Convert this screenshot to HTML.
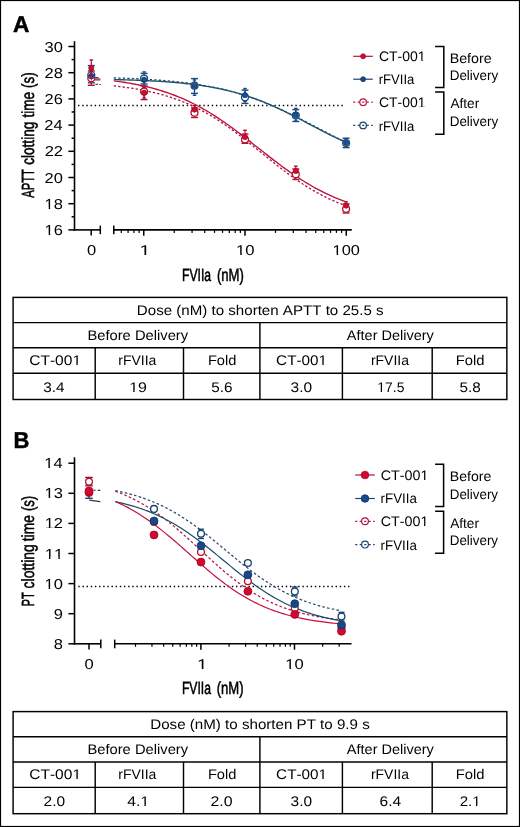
<!DOCTYPE html>
<html><head><meta charset="utf-8"><style>html,body{margin:0;padding:0;background:#fff;}svg{display:block;will-change:transform;}</style></head><body>
<svg width="520" height="827" viewBox="0 0 520 827" font-family="'Liberation Sans', sans-serif" text-rendering="geometricPrecision" style="font-kerning:none">
<rect width="520" height="827" fill="#fff"/>
<rect x="0.5" y="0.5" width="519" height="826" fill="none" stroke="#000" stroke-width="1.2"/>
<text transform="translate(12.99,32.05) scale(0.9960,1)" font-size="22.75" font-weight="bold" fill="#000" stroke="#000" stroke-width="0.5">A</text>
<line x1="74.50" y1="41.20" x2="74.50" y2="230.70" stroke="#000" stroke-width="1.6"/>
<line x1="68.40" y1="229.90" x2="74.50" y2="229.90" stroke="#000" stroke-width="1.5"/>
<line x1="71.60" y1="216.80" x2="74.50" y2="216.80" stroke="#000" stroke-width="1.5"/>
<line x1="68.40" y1="203.70" x2="74.50" y2="203.70" stroke="#000" stroke-width="1.5"/>
<line x1="71.60" y1="190.60" x2="74.50" y2="190.60" stroke="#000" stroke-width="1.5"/>
<line x1="68.40" y1="177.50" x2="74.50" y2="177.50" stroke="#000" stroke-width="1.5"/>
<line x1="71.60" y1="164.40" x2="74.50" y2="164.40" stroke="#000" stroke-width="1.5"/>
<line x1="68.40" y1="151.30" x2="74.50" y2="151.30" stroke="#000" stroke-width="1.5"/>
<line x1="71.60" y1="138.20" x2="74.50" y2="138.20" stroke="#000" stroke-width="1.5"/>
<line x1="68.40" y1="125.10" x2="74.50" y2="125.10" stroke="#000" stroke-width="1.5"/>
<line x1="71.60" y1="112.00" x2="74.50" y2="112.00" stroke="#000" stroke-width="1.5"/>
<line x1="68.40" y1="98.90" x2="74.50" y2="98.90" stroke="#000" stroke-width="1.5"/>
<line x1="71.60" y1="85.80" x2="74.50" y2="85.80" stroke="#000" stroke-width="1.5"/>
<line x1="68.40" y1="72.70" x2="74.50" y2="72.70" stroke="#000" stroke-width="1.5"/>
<line x1="71.60" y1="59.60" x2="74.50" y2="59.60" stroke="#000" stroke-width="1.5"/>
<line x1="68.40" y1="46.50" x2="74.50" y2="46.50" stroke="#000" stroke-width="1.5"/>
<text transform="translate(44.58,234.90) scale(1.1454,1)" font-size="14.40" fill="#000">16</text>
<path transform="translate(44.58,234.90) scale(1.1454,1)" d="M0.281,-1.181H3.621V0.422H0.281ZM4.894,-1.181H7.875V0.422H4.894Z" fill="#fff"/>
<text transform="translate(44.57,208.70) scale(1.1454,1)" font-size="14.40" fill="#000">18</text>
<path transform="translate(44.57,208.70) scale(1.1454,1)" d="M0.281,-1.181H3.621V0.422H0.281ZM4.894,-1.181H7.875V0.422H4.894Z" fill="#fff"/>
<text transform="translate(44.50,182.50) scale(1.1454,1)" font-size="14.40" fill="#000">20</text>
<text transform="translate(44.68,156.30) scale(1.1454,1)" font-size="14.40" fill="#000">22</text>
<text transform="translate(44.34,130.10) scale(1.1454,1)" font-size="14.40" fill="#000">24</text>
<text transform="translate(44.58,103.90) scale(1.1454,1)" font-size="14.40" fill="#000">26</text>
<text transform="translate(44.57,77.70) scale(1.1454,1)" font-size="14.40" fill="#000">28</text>
<text transform="translate(44.50,51.50) scale(1.1454,1)" font-size="14.40" fill="#000">30</text>
<line x1="73.70" y1="229.90" x2="100.30" y2="229.90" stroke="#000" stroke-width="1.6"/>
<line x1="100.30" y1="225.60" x2="100.30" y2="234.20" stroke="#000" stroke-width="1.5"/>
<line x1="91.20" y1="229.90" x2="91.20" y2="235.60" stroke="#000" stroke-width="1.5"/>
<line x1="113.75" y1="229.90" x2="351.75" y2="229.90" stroke="#000" stroke-width="1.6"/>
<line x1="113.75" y1="225.60" x2="113.75" y2="234.20" stroke="#000" stroke-width="1.5"/>
<line x1="121.29" y1="229.90" x2="121.29" y2="232.90" stroke="#000" stroke-width="1.2"/>
<line x1="128.07" y1="229.90" x2="128.07" y2="232.90" stroke="#000" stroke-width="1.2"/>
<line x1="133.94" y1="229.90" x2="133.94" y2="232.90" stroke="#000" stroke-width="1.2"/>
<line x1="139.12" y1="229.90" x2="139.12" y2="232.90" stroke="#000" stroke-width="1.2"/>
<line x1="143.75" y1="229.90" x2="143.75" y2="235.80" stroke="#000" stroke-width="1.5"/>
<line x1="174.23" y1="229.90" x2="174.23" y2="232.90" stroke="#000" stroke-width="1.2"/>
<line x1="192.06" y1="229.90" x2="192.06" y2="232.90" stroke="#000" stroke-width="1.2"/>
<line x1="204.71" y1="229.90" x2="204.71" y2="232.90" stroke="#000" stroke-width="1.2"/>
<line x1="214.52" y1="229.90" x2="214.52" y2="232.90" stroke="#000" stroke-width="1.2"/>
<line x1="222.54" y1="229.90" x2="222.54" y2="232.90" stroke="#000" stroke-width="1.2"/>
<line x1="229.32" y1="229.90" x2="229.32" y2="232.90" stroke="#000" stroke-width="1.2"/>
<line x1="235.19" y1="229.90" x2="235.19" y2="232.90" stroke="#000" stroke-width="1.2"/>
<line x1="240.37" y1="229.90" x2="240.37" y2="232.90" stroke="#000" stroke-width="1.2"/>
<line x1="245.00" y1="229.90" x2="245.00" y2="235.80" stroke="#000" stroke-width="1.5"/>
<line x1="275.48" y1="229.90" x2="275.48" y2="232.90" stroke="#000" stroke-width="1.2"/>
<line x1="293.31" y1="229.90" x2="293.31" y2="232.90" stroke="#000" stroke-width="1.2"/>
<line x1="305.96" y1="229.90" x2="305.96" y2="232.90" stroke="#000" stroke-width="1.2"/>
<line x1="315.77" y1="229.90" x2="315.77" y2="232.90" stroke="#000" stroke-width="1.2"/>
<line x1="323.79" y1="229.90" x2="323.79" y2="232.90" stroke="#000" stroke-width="1.2"/>
<line x1="330.57" y1="229.90" x2="330.57" y2="232.90" stroke="#000" stroke-width="1.2"/>
<line x1="336.44" y1="229.90" x2="336.44" y2="232.90" stroke="#000" stroke-width="1.2"/>
<line x1="341.62" y1="229.90" x2="341.62" y2="232.90" stroke="#000" stroke-width="1.2"/>
<line x1="346.25" y1="229.90" x2="346.25" y2="235.80" stroke="#000" stroke-width="1.5"/>
<text transform="translate(86.95,254.80) scale(1.1638,1)" font-size="14.20" fill="#000">0</text>
<text transform="translate(139.51,254.80) scale(1.3873,1)" font-size="14.20" fill="#000">1</text>
<path transform="translate(139.51,254.80) scale(1.3873,1)" d="M0.277,-1.165H3.571V0.416H0.277ZM4.826,-1.165H7.766V0.416H4.826Z" fill="#fff"/>
<text transform="translate(236.10,254.80) scale(1.1748,1)" font-size="14.20" fill="#000">10</text>
<path transform="translate(236.10,254.80) scale(1.1748,1)" d="M0.277,-1.165H3.571V0.416H0.277ZM4.826,-1.165H7.766V0.416H4.826Z" fill="#fff"/>
<text transform="translate(332.53,254.80) scale(1.1529,1)" font-size="14.20" fill="#000">100</text>
<path transform="translate(332.53,254.80) scale(1.1529,1)" d="M0.277,-1.165H3.571V0.416H0.277ZM4.826,-1.165H7.766V0.416H4.826Z" fill="#fff"/>
<text transform="translate(182.00,280.60) scale(0.6919,1)" font-size="17.60" fill="#000" stroke="#000" stroke-width="0.55">FVIIa</text>
<text transform="translate(216.89,280.60) scale(0.7444,1)" font-size="17.60" fill="#000" stroke="#000" stroke-width="0.55">(nM)</text>
<text transform="translate(33.50,197.82) rotate(-90) scale(0.6376,1)" font-size="17.60" stroke="#000" stroke-width="0.55">APTT</text>
<text transform="translate(33.50,164.78) rotate(-90) scale(0.7720,1)" font-size="17.60" stroke="#000" stroke-width="0.55">clotting</text>
<text transform="translate(33.50,117.61) rotate(-90) scale(0.7702,1)" font-size="17.60" stroke="#000" stroke-width="0.55">time</text>
<text transform="translate(33.50,88.04) rotate(-90) scale(0.7661,1)" font-size="17.60" stroke="#000" stroke-width="0.55">(s)</text>
<line x1="78" y1="105.6" x2="343" y2="105.6" stroke="#000" stroke-width="1.5" stroke-dasharray="1.4 2.78"/>
<path d="M113.80,77.83 L115.73,77.90 L117.67,77.96 L119.60,78.03 L121.54,78.10 L123.47,78.17 L125.41,78.25 L127.34,78.33 L129.28,78.41 L131.22,78.49 L133.15,78.58 L135.09,78.68 L137.02,78.77 L138.95,78.87 L140.89,78.97 L142.82,79.08 L144.76,79.19 L146.69,79.31 L148.63,79.43 L150.56,79.55 L152.50,79.68 L154.44,79.81 L156.37,79.95 L158.31,80.09 L160.24,80.24 L162.18,80.40 L164.11,80.56 L166.04,80.73 L167.98,80.90 L169.91,81.08 L171.85,81.26 L173.78,81.46 L175.72,81.66 L177.66,81.86 L179.59,82.08 L181.52,82.30 L183.46,82.53 L185.39,82.77 L187.33,83.01 L189.26,83.27 L191.20,83.53 L193.13,83.80 L195.07,84.08 L197.00,84.38 L198.94,84.68 L200.88,84.99 L202.81,85.31 L204.75,85.65 L206.68,85.99 L208.62,86.34 L210.55,86.71 L212.48,87.09 L214.42,87.48 L216.35,87.88 L218.29,88.30 L220.22,88.73 L222.16,89.17 L224.09,89.62 L226.03,90.09 L227.96,90.57 L229.90,91.07 L231.83,91.58 L233.77,92.10 L235.70,92.64 L237.64,93.19 L239.57,93.76 L241.51,94.34 L243.44,94.94 L245.38,95.55 L247.31,96.18 L249.25,96.83 L251.19,97.49 L253.12,98.16 L255.06,98.85 L256.99,99.56 L258.93,100.28 L260.86,101.02 L262.79,101.77 L264.73,102.54 L266.66,103.32 L268.60,104.11 L270.54,104.92 L272.47,105.75 L274.40,106.59 L276.34,107.44 L278.27,108.31 L280.21,109.18 L282.14,110.08 L284.08,110.98 L286.01,111.89 L287.95,112.82 L289.88,113.75 L291.82,114.70 L293.75,115.65 L295.69,116.62 L297.62,117.59 L299.56,118.57 L301.50,119.55 L303.43,120.55 L305.37,121.54 L307.30,122.54 L309.23,123.55 L311.17,124.55 L313.10,125.56 L315.04,126.57 L316.98,127.58 L318.91,128.60 L320.84,129.60 L322.78,130.61 L324.71,131.62 L326.65,132.62 L328.58,133.62 L330.52,134.61 L332.45,135.60 L334.39,136.58 L336.32,137.55 L338.26,138.51 L340.19,139.47 L342.13,140.42 L344.06,141.36 L346.00,142.28" fill="none" stroke="#27486e" stroke-width="1.3" stroke-dasharray="2.3 2.2" stroke-linejoin="round"/>
<path d="M113.80,85.91 L115.73,86.13 L117.67,86.35 L119.60,86.58 L121.54,86.81 L123.47,87.06 L125.41,87.32 L127.34,87.59 L129.28,87.87 L131.22,88.16 L133.15,88.47 L135.09,88.78 L137.02,89.11 L138.95,89.45 L140.89,89.81 L142.82,90.18 L144.76,90.56 L146.69,90.96 L148.63,91.37 L150.56,91.80 L152.50,92.25 L154.44,92.71 L156.37,93.19 L158.31,93.69 L160.24,94.20 L162.18,94.74 L164.11,95.29 L166.04,95.87 L167.98,96.46 L169.91,97.08 L171.85,97.71 L173.78,98.37 L175.72,99.05 L177.66,99.75 L179.59,100.48 L181.52,101.23 L183.46,102.00 L185.39,102.80 L187.33,103.62 L189.26,104.47 L191.20,105.34 L193.13,106.24 L195.07,107.17 L197.00,108.12 L198.94,109.09 L200.88,110.10 L202.81,111.13 L204.75,112.18 L206.68,113.27 L208.62,114.38 L210.55,115.51 L212.48,116.67 L214.42,117.86 L216.35,119.07 L218.29,120.31 L220.22,121.57 L222.16,122.86 L224.09,124.17 L226.03,125.51 L227.96,126.86 L229.90,128.24 L231.83,129.64 L233.77,131.05 L235.70,132.49 L237.64,133.95 L239.57,135.42 L241.51,136.90 L243.44,138.40 L245.38,139.92 L247.31,141.44 L249.25,142.98 L251.19,144.52 L253.12,146.08 L255.06,147.64 L256.99,149.20 L258.93,150.77 L260.86,152.33 L262.79,153.90 L264.73,155.47 L266.66,157.03 L268.60,158.59 L270.54,160.15 L272.47,161.69 L274.40,163.23 L276.34,164.76 L278.27,166.27 L280.21,167.78 L282.14,169.27 L284.08,170.74 L286.01,172.20 L287.95,173.64 L289.88,175.06 L291.82,176.46 L293.75,177.84 L295.69,179.20 L297.62,180.54 L299.56,181.86 L301.50,183.15 L303.43,184.42 L305.37,185.66 L307.30,186.88 L309.23,188.07 L311.17,189.24 L313.10,190.38 L315.04,191.49 L316.98,192.58 L318.91,193.64 L320.84,194.68 L322.78,195.68 L324.71,196.67 L326.65,197.62 L328.58,198.55 L330.52,199.45 L332.45,200.33 L334.39,201.19 L336.32,202.01 L338.26,202.82 L340.19,203.59 L342.13,204.35 L344.06,205.08 L346.00,205.79" fill="none" stroke="#b01040" stroke-width="1.3" stroke-dasharray="2.3 2.1" stroke-linejoin="round"/>
<path d="M113.80,79.55 L115.73,79.59 L117.67,79.64 L119.60,79.69 L121.54,79.74 L123.47,79.79 L125.41,79.85 L127.34,79.91 L129.28,79.97 L131.22,80.03 L133.15,80.10 L135.09,80.16 L137.02,80.24 L138.95,80.31 L140.89,80.39 L142.82,80.47 L144.76,80.55 L146.69,80.64 L148.63,80.74 L150.56,80.83 L152.50,80.93 L154.44,81.04 L156.37,81.15 L158.31,81.26 L160.24,81.38 L162.18,81.51 L164.11,81.64 L166.04,81.77 L167.98,81.91 L169.91,82.06 L171.85,82.21 L173.78,82.37 L175.72,82.54 L177.66,82.71 L179.59,82.89 L181.52,83.08 L183.46,83.28 L185.39,83.48 L187.33,83.69 L189.26,83.91 L191.20,84.14 L193.13,84.38 L195.07,84.63 L197.00,84.89 L198.94,85.15 L200.88,85.43 L202.81,85.72 L204.75,86.02 L206.68,86.33 L208.62,86.66 L210.55,86.99 L212.48,87.34 L214.42,87.70 L216.35,88.07 L218.29,88.46 L220.22,88.86 L222.16,89.28 L224.09,89.71 L226.03,90.15 L227.96,90.61 L229.90,91.08 L231.83,91.57 L233.77,92.08 L235.70,92.60 L237.64,93.14 L239.57,93.70 L241.51,94.27 L243.44,94.86 L245.38,95.47 L247.31,96.09 L249.25,96.73 L251.19,97.39 L253.12,98.07 L255.06,98.76 L256.99,99.47 L258.93,100.20 L260.86,100.95 L262.79,101.71 L264.73,102.49 L266.66,103.29 L268.60,104.10 L270.54,104.93 L272.47,105.78 L274.40,106.64 L276.34,107.52 L278.27,108.41 L280.21,109.31 L282.14,110.23 L284.08,111.16 L286.01,112.10 L287.95,113.06 L289.88,114.02 L291.82,114.99 L293.75,115.98 L295.69,116.97 L297.62,117.97 L299.56,118.97 L301.50,119.98 L303.43,120.99 L305.37,122.01 L307.30,123.03 L309.23,124.05 L311.17,125.07 L313.10,126.09 L315.04,127.11 L316.98,128.12 L318.91,129.13 L320.84,130.14 L322.78,131.14 L324.71,132.13 L326.65,133.12 L328.58,134.10 L330.52,135.07 L332.45,136.02 L334.39,136.97 L336.32,137.91 L338.26,138.83 L340.19,139.74 L342.13,140.64 L344.06,141.52 L346.00,142.39" fill="none" stroke="#1d5270" stroke-width="1.4" stroke-linejoin="round"/>
<path d="M113.80,80.86 L115.73,81.11 L117.67,81.37 L119.60,81.64 L121.54,81.92 L123.47,82.22 L125.41,82.52 L127.34,82.84 L129.28,83.17 L131.22,83.51 L133.15,83.86 L135.09,84.23 L137.02,84.61 L138.95,85.00 L140.89,85.41 L142.82,85.84 L144.76,86.28 L146.69,86.73 L148.63,87.20 L150.56,87.69 L152.50,88.19 L154.44,88.72 L156.37,89.26 L158.31,89.82 L160.24,90.39 L162.18,90.99 L164.11,91.61 L166.04,92.24 L167.98,92.90 L169.91,93.58 L171.85,94.28 L173.78,95.00 L175.72,95.75 L177.66,96.51 L179.59,97.30 L181.52,98.12 L183.46,98.95 L185.39,99.81 L187.33,100.70 L189.26,101.61 L191.20,102.54 L193.13,103.50 L195.07,104.48 L197.00,105.48 L198.94,106.51 L200.88,107.57 L202.81,108.65 L204.75,109.76 L206.68,110.89 L208.62,112.04 L210.55,113.22 L212.48,114.42 L214.42,115.64 L216.35,116.89 L218.29,118.16 L220.22,119.45 L222.16,120.76 L224.09,122.09 L226.03,123.44 L227.96,124.81 L229.90,126.20 L231.83,127.61 L233.77,129.03 L235.70,130.47 L237.64,131.92 L239.57,133.38 L241.51,134.86 L243.44,136.35 L245.38,137.85 L247.31,139.35 L249.25,140.87 L251.19,142.39 L253.12,143.91 L255.06,145.44 L256.99,146.97 L258.93,148.50 L260.86,150.03 L262.79,151.55 L264.73,153.08 L266.66,154.60 L268.60,156.11 L270.54,157.61 L272.47,159.11 L274.40,160.60 L276.34,162.07 L278.27,163.54 L280.21,164.99 L282.14,166.42 L284.08,167.84 L286.01,169.25 L287.95,170.64 L289.88,172.00 L291.82,173.35 L293.75,174.68 L295.69,175.99 L297.62,177.28 L299.56,178.55 L301.50,179.79 L303.43,181.01 L305.37,182.21 L307.30,183.38 L309.23,184.54 L311.17,185.66 L313.10,186.76 L315.04,187.84 L316.98,188.89 L318.91,189.92 L320.84,190.93 L322.78,191.91 L324.71,192.86 L326.65,193.79 L328.58,194.69 L330.52,195.58 L332.45,196.43 L334.39,197.27 L336.32,198.08 L338.26,198.86 L340.19,199.63 L342.13,200.37 L344.06,201.09 L346.00,201.79" fill="none" stroke="#c0103c" stroke-width="1.35" stroke-linejoin="round"/>
<line x1="95.20" y1="77.60" x2="98.50" y2="77.60" stroke="#3a4a66" stroke-width="1.2"/>
<line x1="95.20" y1="79.00" x2="100.30" y2="79.00" stroke="#c0103c" stroke-width="1.3"/>
<line x1="95.20" y1="80.00" x2="100.30" y2="80.00" stroke="#556070" stroke-width="1.2"/>
<line x1="95.50" y1="84.30" x2="98.00" y2="84.30" stroke="#8a1a3a" stroke-width="1.2"/>
<line x1="99.30" y1="84.50" x2="100.80" y2="84.50" stroke="#8a1a3a" stroke-width="1.0"/>
<line x1="91.30" y1="70.50" x2="91.30" y2="81.00" stroke="#1a4a80" stroke-width="1.2"/>
<line x1="89.60" y1="70.50" x2="93.00" y2="70.50" stroke="#1a4a80" stroke-width="1.4"/>
<line x1="89.60" y1="81.00" x2="93.00" y2="81.00" stroke="#1a4a80" stroke-width="1.4"/>
<line x1="144.10" y1="71.90" x2="144.10" y2="87.00" stroke="#1a4a80" stroke-width="1.2"/>
<line x1="142.40" y1="71.90" x2="145.80" y2="71.90" stroke="#1a4a80" stroke-width="1.4"/>
<line x1="142.40" y1="87.00" x2="145.80" y2="87.00" stroke="#1a4a80" stroke-width="1.4"/>
<line x1="194.50" y1="80.00" x2="194.50" y2="95.30" stroke="#1a4a80" stroke-width="1.2"/>
<line x1="192.80" y1="80.00" x2="196.20" y2="80.00" stroke="#1a4a80" stroke-width="1.4"/>
<line x1="192.80" y1="95.30" x2="196.20" y2="95.30" stroke="#1a4a80" stroke-width="1.4"/>
<line x1="245.00" y1="88.50" x2="245.00" y2="101.50" stroke="#1a4a80" stroke-width="1.2"/>
<line x1="243.30" y1="88.50" x2="246.70" y2="88.50" stroke="#1a4a80" stroke-width="1.4"/>
<line x1="243.30" y1="101.50" x2="246.70" y2="101.50" stroke="#1a4a80" stroke-width="1.4"/>
<line x1="295.80" y1="108.40" x2="295.80" y2="121.00" stroke="#1a4a80" stroke-width="1.2"/>
<line x1="294.10" y1="108.40" x2="297.50" y2="108.40" stroke="#1a4a80" stroke-width="1.4"/>
<line x1="294.10" y1="121.00" x2="297.50" y2="121.00" stroke="#1a4a80" stroke-width="1.4"/>
<line x1="346.10" y1="138.60" x2="346.10" y2="147.00" stroke="#1a4a80" stroke-width="1.2"/>
<line x1="344.40" y1="138.60" x2="347.80" y2="138.60" stroke="#1a4a80" stroke-width="1.4"/>
<line x1="344.40" y1="147.00" x2="347.80" y2="147.00" stroke="#1a4a80" stroke-width="1.4"/>
<line x1="91.30" y1="65.55" x2="91.30" y2="82.80" stroke="#1a4a80" stroke-width="1.2"/>
<line x1="87.80" y1="65.55" x2="94.80" y2="65.55" stroke="#1a4a80" stroke-width="1.4"/>
<line x1="87.80" y1="82.80" x2="94.80" y2="82.80" stroke="#1a4a80" stroke-width="1.4"/>
<line x1="144.10" y1="73.40" x2="144.10" y2="84.00" stroke="#1a4a80" stroke-width="1.2"/>
<line x1="140.60" y1="73.40" x2="147.60" y2="73.40" stroke="#1a4a80" stroke-width="1.4"/>
<line x1="140.60" y1="84.00" x2="147.60" y2="84.00" stroke="#1a4a80" stroke-width="1.4"/>
<line x1="194.50" y1="78.60" x2="194.50" y2="93.40" stroke="#1a4a80" stroke-width="1.2"/>
<line x1="191.00" y1="78.60" x2="198.00" y2="78.60" stroke="#1a4a80" stroke-width="1.4"/>
<line x1="191.00" y1="93.40" x2="198.00" y2="93.40" stroke="#1a4a80" stroke-width="1.4"/>
<line x1="245.00" y1="90.15" x2="245.00" y2="103.40" stroke="#1a4a80" stroke-width="1.2"/>
<line x1="241.50" y1="90.15" x2="248.50" y2="90.15" stroke="#1a4a80" stroke-width="1.4"/>
<line x1="241.50" y1="103.40" x2="248.50" y2="103.40" stroke="#1a4a80" stroke-width="1.4"/>
<line x1="295.80" y1="109.60" x2="295.80" y2="121.50" stroke="#1a4a80" stroke-width="1.2"/>
<line x1="292.30" y1="109.60" x2="299.30" y2="109.60" stroke="#1a4a80" stroke-width="1.4"/>
<line x1="292.30" y1="121.50" x2="299.30" y2="121.50" stroke="#1a4a80" stroke-width="1.4"/>
<line x1="346.10" y1="138.20" x2="346.10" y2="147.60" stroke="#1a4a80" stroke-width="1.2"/>
<line x1="342.60" y1="138.20" x2="349.60" y2="138.20" stroke="#1a4a80" stroke-width="1.4"/>
<line x1="342.60" y1="147.60" x2="349.60" y2="147.60" stroke="#1a4a80" stroke-width="1.4"/>
<line x1="91.30" y1="60.00" x2="91.30" y2="76.00" stroke="#b0102f" stroke-width="1.2"/>
<line x1="89.50" y1="60.00" x2="93.10" y2="60.00" stroke="#b0102f" stroke-width="1.4"/>
<line x1="89.50" y1="76.00" x2="93.10" y2="76.00" stroke="#b0102f" stroke-width="1.4"/>
<line x1="144.10" y1="87.00" x2="144.10" y2="98.00" stroke="#b0102f" stroke-width="1.2"/>
<line x1="142.30" y1="87.00" x2="145.90" y2="87.00" stroke="#b0102f" stroke-width="1.4"/>
<line x1="142.30" y1="98.00" x2="145.90" y2="98.00" stroke="#b0102f" stroke-width="1.4"/>
<line x1="194.50" y1="105.50" x2="194.50" y2="114.50" stroke="#b0102f" stroke-width="1.2"/>
<line x1="192.70" y1="105.50" x2="196.30" y2="105.50" stroke="#b0102f" stroke-width="1.4"/>
<line x1="192.70" y1="114.50" x2="196.30" y2="114.50" stroke="#b0102f" stroke-width="1.4"/>
<line x1="245.00" y1="130.30" x2="245.00" y2="143.30" stroke="#b0102f" stroke-width="1.2"/>
<line x1="243.20" y1="130.30" x2="246.80" y2="130.30" stroke="#b0102f" stroke-width="1.4"/>
<line x1="243.20" y1="143.30" x2="246.80" y2="143.30" stroke="#b0102f" stroke-width="1.4"/>
<line x1="295.80" y1="166.20" x2="295.80" y2="176.00" stroke="#b0102f" stroke-width="1.2"/>
<line x1="294.00" y1="166.20" x2="297.60" y2="166.20" stroke="#b0102f" stroke-width="1.4"/>
<line x1="294.00" y1="176.00" x2="297.60" y2="176.00" stroke="#b0102f" stroke-width="1.4"/>
<line x1="346.10" y1="201.80" x2="346.10" y2="209.50" stroke="#b0102f" stroke-width="1.2"/>
<line x1="344.30" y1="201.80" x2="347.90" y2="201.80" stroke="#b0102f" stroke-width="1.4"/>
<line x1="344.30" y1="209.50" x2="347.90" y2="209.50" stroke="#b0102f" stroke-width="1.4"/>
<line x1="91.30" y1="71.00" x2="91.30" y2="85.30" stroke="#b0102f" stroke-width="1.2"/>
<line x1="87.80" y1="71.00" x2="94.80" y2="71.00" stroke="#b0102f" stroke-width="1.4"/>
<line x1="87.80" y1="85.30" x2="94.80" y2="85.30" stroke="#b0102f" stroke-width="1.4"/>
<line x1="144.10" y1="86.00" x2="144.10" y2="99.60" stroke="#b0102f" stroke-width="1.2"/>
<line x1="140.60" y1="86.00" x2="147.60" y2="86.00" stroke="#b0102f" stroke-width="1.4"/>
<line x1="140.60" y1="99.60" x2="147.60" y2="99.60" stroke="#b0102f" stroke-width="1.4"/>
<line x1="194.50" y1="108.00" x2="194.50" y2="117.50" stroke="#b0102f" stroke-width="1.2"/>
<line x1="191.00" y1="108.00" x2="198.00" y2="108.00" stroke="#b0102f" stroke-width="1.4"/>
<line x1="191.00" y1="117.50" x2="198.00" y2="117.50" stroke="#b0102f" stroke-width="1.4"/>
<line x1="245.00" y1="134.00" x2="245.00" y2="143.30" stroke="#b0102f" stroke-width="1.2"/>
<line x1="241.50" y1="134.00" x2="248.50" y2="134.00" stroke="#b0102f" stroke-width="1.4"/>
<line x1="241.50" y1="143.30" x2="248.50" y2="143.30" stroke="#b0102f" stroke-width="1.4"/>
<line x1="295.80" y1="169.00" x2="295.80" y2="179.50" stroke="#b0102f" stroke-width="1.2"/>
<line x1="292.30" y1="169.00" x2="299.30" y2="169.00" stroke="#b0102f" stroke-width="1.4"/>
<line x1="292.30" y1="179.50" x2="299.30" y2="179.50" stroke="#b0102f" stroke-width="1.4"/>
<line x1="346.10" y1="204.00" x2="346.10" y2="213.00" stroke="#b0102f" stroke-width="1.2"/>
<line x1="342.60" y1="204.00" x2="349.60" y2="204.00" stroke="#b0102f" stroke-width="1.4"/>
<line x1="342.60" y1="213.00" x2="349.60" y2="213.00" stroke="#b0102f" stroke-width="1.4"/>
<circle cx="144.10" cy="78.50" r="3.45" fill="#fff" stroke="#1a4a80" stroke-width="1.3"/>
<circle cx="194.50" cy="85.70" r="3.45" fill="#fff" stroke="#1a4a80" stroke-width="1.3"/>
<circle cx="245.00" cy="97.30" r="3.45" fill="#fff" stroke="#1a4a80" stroke-width="1.3"/>
<circle cx="295.80" cy="115.50" r="3.45" fill="#fff" stroke="#1a4a80" stroke-width="1.3"/>
<circle cx="346.10" cy="143.00" r="3.45" fill="#fff" stroke="#1a4a80" stroke-width="1.3"/>
<circle cx="91.30" cy="78.20" r="3.45" fill="#fff" stroke="#b0102f" stroke-width="1.3"/>
<circle cx="144.10" cy="91.50" r="3.45" fill="#fff" stroke="#b0102f" stroke-width="1.3"/>
<circle cx="194.50" cy="112.70" r="3.45" fill="#fff" stroke="#b0102f" stroke-width="1.3"/>
<circle cx="245.00" cy="139.50" r="3.45" fill="#fff" stroke="#b0102f" stroke-width="1.3"/>
<circle cx="295.80" cy="174.30" r="3.45" fill="#fff" stroke="#b0102f" stroke-width="1.3"/>
<circle cx="346.10" cy="209.00" r="3.45" fill="#fff" stroke="#b0102f" stroke-width="1.3"/>
<circle cx="144.10" cy="79.70" r="2.6" fill="#1b5190" stroke="#0e2f5c" stroke-width="0.7"/>
<circle cx="194.50" cy="85.90" r="2.6" fill="#1b5190" stroke="#0e2f5c" stroke-width="0.7"/>
<circle cx="245.00" cy="95.15" r="2.6" fill="#1b5190" stroke="#0e2f5c" stroke-width="0.7"/>
<circle cx="295.80" cy="115.20" r="2.6" fill="#1b5190" stroke="#0e2f5c" stroke-width="0.7"/>
<circle cx="346.10" cy="142.80" r="2.6" fill="#1b5190" stroke="#0e2f5c" stroke-width="0.7"/>
<circle cx="91.30" cy="75.60" r="2.3" fill="#5a2a78" stroke="#3a1f5a" stroke-width="0.7"/>
<circle cx="91.30" cy="75.10" r="3.5" fill="none" stroke="#1a4a80" stroke-width="1.3"/>
<line x1="91.30" y1="70.50" x2="91.30" y2="80.50" stroke="#b01040" stroke-width="0.9"/>
<circle cx="91.30" cy="68.10" r="2.6" fill="#cc0f30" stroke="#a3001f" stroke-width="0.7"/>
<circle cx="144.10" cy="92.70" r="2.6" fill="#cc0f30" stroke="#a3001f" stroke-width="0.7"/>
<circle cx="194.50" cy="109.60" r="2.6" fill="#cc0f30" stroke="#a3001f" stroke-width="0.7"/>
<circle cx="245.00" cy="137.00" r="2.6" fill="#cc0f30" stroke="#a3001f" stroke-width="0.7"/>
<circle cx="295.80" cy="171.00" r="2.6" fill="#cc0f30" stroke="#a3001f" stroke-width="0.7"/>
<circle cx="346.10" cy="205.60" r="2.6" fill="#cc0f30" stroke="#a3001f" stroke-width="0.7"/>
<line x1="353.20" y1="56.30" x2="372.80" y2="56.30" stroke="#b5153f" stroke-width="1.2"/>
<circle cx="363.10" cy="56.30" r="2.5" fill="#c8103a" stroke="#a3001f" stroke-width="0.7"/>
<line x1="353.20" y1="79.20" x2="372.80" y2="79.20" stroke="#1e436e" stroke-width="1.2"/>
<circle cx="363.10" cy="79.20" r="2.5" fill="#1b4a80" stroke="#0e2f5c" stroke-width="0.7"/>
<line x1="353.20" y1="102.20" x2="372.80" y2="102.20" stroke="#b5153f" stroke-width="1.2" stroke-dasharray="2.1 2.4"/>
<circle cx="363.10" cy="102.20" r="3.3" fill="none" stroke="#b5153f" stroke-width="1.2"/>
<line x1="353.20" y1="125.40" x2="372.80" y2="125.40" stroke="#1e436e" stroke-width="1.2" stroke-dasharray="2.1 2.4"/>
<circle cx="363.10" cy="125.40" r="3.3" fill="none" stroke="#1e436e" stroke-width="1.2"/>
<text transform="translate(378.89,60.80) scale(1.0158,1)" font-size="13.80" fill="#000">CT-001</text>
<path transform="translate(378.89,60.80) scale(1.0158,1)" d="M38.610,-1.132H41.811V0.404H38.610ZM43.031,-1.132H45.888V0.404H43.031Z" fill="#fff"/>
<text transform="translate(378.73,84.20) scale(0.9494,1)" font-size="13.80" fill="#000">rFVIIa</text>
<text transform="translate(378.89,107.40) scale(1.0111,1)" font-size="13.80" fill="#000">CT-001</text>
<path transform="translate(378.89,107.40) scale(1.0111,1)" d="M38.610,-1.132H41.811V0.404H38.610ZM43.031,-1.132H45.888V0.404H43.031Z" fill="#fff"/>
<text transform="translate(378.73,130.70) scale(0.9494,1)" font-size="13.80" fill="#000">rFVIIa</text>
<path d="M435.10,46.40 H443.80 V87.60 H435.10" fill="none" stroke="#000" stroke-width="1.5"/>
<path d="M435.10,92.00 H443.80 V134.20 H435.10" fill="none" stroke="#000" stroke-width="1.5"/>
<text transform="translate(449.63,63.30) scale(1.0331,1)" font-size="13.80" fill="#000">Before</text>
<text transform="translate(449.70,80.40) scale(0.9736,1)" font-size="13.80" fill="#000">Delivery</text>
<text transform="translate(450.47,108.40) scale(0.9866,1)" font-size="13.80" fill="#000">After</text>
<text transform="translate(449.70,126.00) scale(0.9736,1)" font-size="13.80" fill="#000">Delivery</text>
<rect x="13.10" y="297.40" width="493.75" height="102.10" fill="none" stroke="#000" stroke-width="1.45"/>
<line x1="13.10" y1="322.60" x2="506.85" y2="322.60" stroke="#000" stroke-width="1.45"/>
<line x1="13.10" y1="347.70" x2="506.85" y2="347.70" stroke="#000" stroke-width="1.45"/>
<line x1="13.10" y1="373.15" x2="506.85" y2="373.15" stroke="#000" stroke-width="1.45"/>
<line x1="259.90" y1="322.60" x2="259.90" y2="399.50" stroke="#000" stroke-width="1.45"/>
<line x1="95.20" y1="347.70" x2="95.20" y2="399.50" stroke="#000" stroke-width="1.45"/>
<line x1="183.50" y1="347.70" x2="183.50" y2="399.50" stroke="#000" stroke-width="1.45"/>
<line x1="342.40" y1="347.70" x2="342.40" y2="399.50" stroke="#000" stroke-width="1.45"/>
<line x1="432.20" y1="347.70" x2="432.20" y2="399.50" stroke="#000" stroke-width="1.45"/>
<text transform="translate(136.86,314.60) scale(1.0784,1)" font-size="14.00" fill="#000">Dose (nM) to shorten APTT to 25.5 s</text>
<text transform="translate(87.39,339.90) scale(1.0526,1)" font-size="14.00" fill="#000">Before Delivery</text>
<text transform="translate(346.87,339.90) scale(1.0349,1)" font-size="14.00" fill="#000">After Delivery</text>
<text transform="translate(29.21,364.90) scale(1.1108,1)" font-size="14.00" fill="#000">CT-001</text>
<path transform="translate(29.21,364.90) scale(1.1108,1)" d="M39.170,-1.148H42.417V0.410H39.170ZM43.654,-1.148H46.553V0.410H43.654Z" fill="#fff"/>
<text transform="translate(118.27,364.90) scale(0.9976,1)" font-size="14.00" fill="#000">rFVIIa</text>
<text transform="translate(207.90,364.90) scale(1.0483,1)" font-size="14.00" fill="#000">Fold</text>
<text transform="translate(276.12,364.90) scale(1.0910,1)" font-size="14.00" fill="#000">CT-001</text>
<path transform="translate(276.12,364.90) scale(1.0910,1)" d="M39.170,-1.148H42.417V0.410H39.170ZM43.654,-1.148H46.553V0.410H43.654Z" fill="#fff"/>
<text transform="translate(370.97,364.90) scale(0.9950,1)" font-size="14.00" fill="#000">rFVIIa</text>
<text transform="translate(455.69,364.90) scale(1.0562,1)" font-size="14.00" fill="#000">Fold</text>
<text transform="translate(43.17,391.60) scale(1.0935,1)" font-size="14.00" fill="#000">3.4</text>
<text transform="translate(129.17,391.60) scale(1.1392,1)" font-size="14.00" fill="#000">19</text>
<path transform="translate(129.17,391.60) scale(1.1392,1)" d="M0.273,-1.148H3.521V0.410H0.273ZM4.758,-1.148H7.656V0.410H4.758Z" fill="#fff"/>
<text transform="translate(211.29,391.60) scale(1.0937,1)" font-size="14.00" fill="#000">5.6</text>
<text transform="translate(290.56,391.60) scale(1.1071,1)" font-size="14.00" fill="#000">3.0</text>
<text transform="translate(377.15,391.60) scale(1.0014,1)" font-size="14.00" fill="#000">17.5</text>
<path transform="translate(377.15,391.60) scale(1.0014,1)" d="M0.273,-1.148H3.521V0.410H0.273ZM4.758,-1.148H7.656V0.410H4.758Z" fill="#fff"/>
<text transform="translate(459.39,391.60) scale(1.0933,1)" font-size="14.00" fill="#000">5.8</text>
<rect x="13.10" y="711.60" width="493.75" height="102.10" fill="none" stroke="#000" stroke-width="1.45"/>
<line x1="13.10" y1="736.80" x2="506.85" y2="736.80" stroke="#000" stroke-width="1.45"/>
<line x1="13.10" y1="761.90" x2="506.85" y2="761.90" stroke="#000" stroke-width="1.45"/>
<line x1="13.10" y1="787.35" x2="506.85" y2="787.35" stroke="#000" stroke-width="1.45"/>
<line x1="259.90" y1="736.80" x2="259.90" y2="813.70" stroke="#000" stroke-width="1.45"/>
<line x1="95.20" y1="761.90" x2="95.20" y2="813.70" stroke="#000" stroke-width="1.45"/>
<line x1="183.50" y1="761.90" x2="183.50" y2="813.70" stroke="#000" stroke-width="1.45"/>
<line x1="342.40" y1="761.90" x2="342.40" y2="813.70" stroke="#000" stroke-width="1.45"/>
<line x1="432.20" y1="761.90" x2="432.20" y2="813.70" stroke="#000" stroke-width="1.45"/>
<text transform="translate(150.26,728.80) scale(1.0808,1)" font-size="14.00" fill="#000">Dose (nM) to shorten PT to 9.9 s</text>
<text transform="translate(87.39,754.10) scale(1.0526,1)" font-size="14.00" fill="#000">Before Delivery</text>
<text transform="translate(346.87,754.10) scale(1.0349,1)" font-size="14.00" fill="#000">After Delivery</text>
<text transform="translate(29.21,779.10) scale(1.1108,1)" font-size="14.00" fill="#000">CT-001</text>
<path transform="translate(29.21,779.10) scale(1.1108,1)" d="M39.170,-1.148H42.417V0.410H39.170ZM43.654,-1.148H46.553V0.410H43.654Z" fill="#fff"/>
<text transform="translate(118.27,779.10) scale(0.9976,1)" font-size="14.00" fill="#000">rFVIIa</text>
<text transform="translate(207.90,779.10) scale(1.0483,1)" font-size="14.00" fill="#000">Fold</text>
<text transform="translate(276.12,779.10) scale(1.0910,1)" font-size="14.00" fill="#000">CT-001</text>
<path transform="translate(276.12,779.10) scale(1.0910,1)" d="M39.170,-1.148H42.417V0.410H39.170ZM43.654,-1.148H46.553V0.410H43.654Z" fill="#fff"/>
<text transform="translate(370.97,779.10) scale(0.9950,1)" font-size="14.00" fill="#000">rFVIIa</text>
<text transform="translate(455.69,779.10) scale(1.0562,1)" font-size="14.00" fill="#000">Fold</text>
<text transform="translate(43.62,805.80) scale(1.1092,1)" font-size="14.00" fill="#000">2.0</text>
<text transform="translate(127.34,805.80) scale(1.1234,1)" font-size="14.00" fill="#000">4.1</text>
<path transform="translate(127.34,805.80) scale(1.1234,1)" d="M11.949,-1.148H15.196V0.410H11.949ZM16.434,-1.148H19.332V0.410H16.434Z" fill="#fff"/>
<text transform="translate(210.50,805.80) scale(1.1367,1)" font-size="14.00" fill="#000">2.0</text>
<text transform="translate(290.56,805.80) scale(1.1071,1)" font-size="14.00" fill="#000">3.0</text>
<text transform="translate(379.61,805.80) scale(1.1123,1)" font-size="14.00" fill="#000">6.4</text>
<text transform="translate(459.64,805.80) scale(1.0744,1)" font-size="14.00" fill="#000">2.1</text>
<path transform="translate(459.64,805.80) scale(1.0744,1)" d="M11.949,-1.148H15.196V0.410H11.949ZM16.434,-1.148H19.332V0.410H16.434Z" fill="#fff"/>
<text transform="translate(13.38,448.45) scale(0.9629,1)" font-size="22.82" font-weight="bold" fill="#000" stroke="#000" stroke-width="0.5">B</text>
<line x1="74.50" y1="457.30" x2="74.50" y2="644.60" stroke="#000" stroke-width="1.6"/>
<line x1="68.40" y1="643.80" x2="74.50" y2="643.80" stroke="#000" stroke-width="1.5"/>
<text transform="translate(53.74,648.80) scale(1.1454,1)" font-size="14.40" fill="#000">8</text>
<line x1="68.40" y1="613.70" x2="74.50" y2="613.70" stroke="#000" stroke-width="1.5"/>
<text transform="translate(53.81,618.70) scale(1.1454,1)" font-size="14.40" fill="#000">9</text>
<line x1="68.40" y1="583.60" x2="74.50" y2="583.60" stroke="#000" stroke-width="1.5"/>
<text transform="translate(44.50,588.60) scale(1.1454,1)" font-size="14.40" fill="#000">10</text>
<path transform="translate(44.50,588.60) scale(1.1454,1)" d="M0.281,-1.181H3.621V0.422H0.281ZM4.894,-1.181H7.875V0.422H4.894Z" fill="#fff"/>
<line x1="68.40" y1="553.50" x2="74.50" y2="553.50" stroke="#000" stroke-width="1.5"/>
<text transform="translate(44.66,558.50) scale(1.1808,1)" font-size="14.40" fill="#000">11</text>
<path transform="translate(44.66,558.50) scale(1.1808,1)" d="M0.281,-1.181H3.621V0.422H0.281ZM4.894,-1.181H7.875V0.422H4.894ZM8.290,-1.181H11.630V0.422H8.290ZM12.902,-1.181H15.884V0.422H12.902Z" fill="#fff"/>
<line x1="68.40" y1="523.40" x2="74.50" y2="523.40" stroke="#000" stroke-width="1.5"/>
<text transform="translate(44.68,528.40) scale(1.1454,1)" font-size="14.40" fill="#000">12</text>
<path transform="translate(44.68,528.40) scale(1.1454,1)" d="M0.281,-1.181H3.621V0.422H0.281ZM4.894,-1.181H7.875V0.422H4.894Z" fill="#fff"/>
<line x1="68.40" y1="493.30" x2="74.50" y2="493.30" stroke="#000" stroke-width="1.5"/>
<text transform="translate(44.58,498.30) scale(1.1454,1)" font-size="14.40" fill="#000">13</text>
<path transform="translate(44.58,498.30) scale(1.1454,1)" d="M0.281,-1.181H3.621V0.422H0.281ZM4.894,-1.181H7.875V0.422H4.894Z" fill="#fff"/>
<line x1="68.40" y1="463.20" x2="74.50" y2="463.20" stroke="#000" stroke-width="1.5"/>
<text transform="translate(44.34,468.20) scale(1.1454,1)" font-size="14.40" fill="#000">14</text>
<path transform="translate(44.34,468.20) scale(1.1454,1)" d="M0.281,-1.181H3.621V0.422H0.281ZM4.894,-1.181H7.875V0.422H4.894Z" fill="#fff"/>
<line x1="73.70" y1="643.80" x2="100.80" y2="643.80" stroke="#000" stroke-width="1.6"/>
<line x1="100.80" y1="639.60" x2="100.80" y2="648.30" stroke="#000" stroke-width="1.5"/>
<line x1="89.00" y1="643.80" x2="89.00" y2="649.60" stroke="#000" stroke-width="1.5"/>
<line x1="114.70" y1="643.80" x2="351.50" y2="643.80" stroke="#000" stroke-width="1.6"/>
<line x1="114.70" y1="639.60" x2="114.70" y2="648.30" stroke="#000" stroke-width="1.5"/>
<line x1="135.48" y1="643.80" x2="135.48" y2="646.80" stroke="#000" stroke-width="1.2"/>
<line x1="151.96" y1="643.80" x2="151.96" y2="646.80" stroke="#000" stroke-width="1.2"/>
<line x1="163.65" y1="643.80" x2="163.65" y2="646.80" stroke="#000" stroke-width="1.2"/>
<line x1="172.72" y1="643.80" x2="172.72" y2="646.80" stroke="#000" stroke-width="1.2"/>
<line x1="180.13" y1="643.80" x2="180.13" y2="646.80" stroke="#000" stroke-width="1.2"/>
<line x1="186.40" y1="643.80" x2="186.40" y2="646.80" stroke="#000" stroke-width="1.2"/>
<line x1="191.83" y1="643.80" x2="191.83" y2="646.80" stroke="#000" stroke-width="1.2"/>
<line x1="196.62" y1="643.80" x2="196.62" y2="646.80" stroke="#000" stroke-width="1.2"/>
<line x1="200.90" y1="643.80" x2="200.90" y2="649.70" stroke="#000" stroke-width="1.5"/>
<line x1="229.08" y1="643.80" x2="229.08" y2="646.80" stroke="#000" stroke-width="1.2"/>
<line x1="245.56" y1="643.80" x2="245.56" y2="646.80" stroke="#000" stroke-width="1.2"/>
<line x1="257.25" y1="643.80" x2="257.25" y2="646.80" stroke="#000" stroke-width="1.2"/>
<line x1="266.32" y1="643.80" x2="266.32" y2="646.80" stroke="#000" stroke-width="1.2"/>
<line x1="273.73" y1="643.80" x2="273.73" y2="646.80" stroke="#000" stroke-width="1.2"/>
<line x1="280.00" y1="643.80" x2="280.00" y2="646.80" stroke="#000" stroke-width="1.2"/>
<line x1="285.43" y1="643.80" x2="285.43" y2="646.80" stroke="#000" stroke-width="1.2"/>
<line x1="290.22" y1="643.80" x2="290.22" y2="646.80" stroke="#000" stroke-width="1.2"/>
<line x1="294.50" y1="643.80" x2="294.50" y2="649.70" stroke="#000" stroke-width="1.5"/>
<line x1="322.68" y1="643.80" x2="322.68" y2="646.80" stroke="#000" stroke-width="1.2"/>
<line x1="339.16" y1="643.80" x2="339.16" y2="646.80" stroke="#000" stroke-width="1.2"/>
<text transform="translate(84.55,669.00) scale(1.1638,1)" font-size="14.20" fill="#000">0</text>
<text transform="translate(197.08,669.00) scale(1.3295,1)" font-size="14.20" fill="#000">1</text>
<path transform="translate(197.08,669.00) scale(1.3295,1)" d="M0.277,-1.165H3.571V0.416H0.277ZM4.826,-1.165H7.766V0.416H4.826Z" fill="#fff"/>
<text transform="translate(285.31,669.00) scale(1.1676,1)" font-size="14.20" fill="#000">10</text>
<path transform="translate(285.31,669.00) scale(1.1676,1)" d="M0.277,-1.165H3.571V0.416H0.277ZM4.826,-1.165H7.766V0.416H4.826Z" fill="#fff"/>
<text transform="translate(181.90,694.40) scale(0.6919,1)" font-size="17.60" fill="#000" stroke="#000" stroke-width="0.55">FVIIa</text>
<text transform="translate(216.69,694.40) scale(0.7444,1)" font-size="17.60" fill="#000" stroke="#000" stroke-width="0.55">(nM)</text>
<text transform="translate(33.60,606.52) rotate(-90) scale(0.6346,1)" font-size="17.60" stroke="#000" stroke-width="0.55">PT</text>
<text transform="translate(33.60,588.39) rotate(-90) scale(0.7943,1)" font-size="17.60" stroke="#000" stroke-width="0.55">clotting</text>
<text transform="translate(33.60,541.21) rotate(-90) scale(0.7826,1)" font-size="17.60" stroke="#000" stroke-width="0.55">time</text>
<text transform="translate(33.60,511.12) rotate(-90) scale(0.7470,1)" font-size="17.60" stroke="#000" stroke-width="0.55">(s)</text>
<line x1="78.3" y1="586.6" x2="351.5" y2="586.6" stroke="#000" stroke-width="1.5" stroke-dasharray="1.4 2.75"/>
<path d="M115.40,490.65 L117.27,491.03 L119.14,491.42 L121.02,491.83 L122.89,492.26 L124.76,492.70 L126.63,493.16 L128.50,493.64 L130.37,494.13 L132.25,494.65 L134.12,495.18 L135.99,495.74 L137.86,496.31 L139.73,496.91 L141.60,497.53 L143.47,498.17 L145.35,498.83 L147.22,499.52 L149.09,500.23 L150.96,500.96 L152.83,501.72 L154.70,502.50 L156.58,503.31 L158.45,504.15 L160.32,505.01 L162.19,505.90 L164.06,506.81 L165.94,507.75 L167.81,508.72 L169.68,509.72 L171.55,510.74 L173.42,511.79 L175.29,512.87 L177.17,513.97 L179.04,515.11 L180.91,516.27 L182.78,517.45 L184.65,518.66 L186.52,519.90 L188.39,521.17 L190.27,522.45 L192.14,523.77 L194.01,525.10 L195.88,526.46 L197.75,527.84 L199.62,529.24 L201.50,530.66 L203.37,532.10 L205.24,533.56 L207.11,535.03 L208.98,536.52 L210.86,538.02 L212.73,539.54 L214.60,541.06 L216.47,542.60 L218.34,544.14 L220.21,545.69 L222.08,547.24 L223.96,548.80 L225.83,550.35 L227.70,551.91 L229.57,553.47 L231.44,555.02 L233.31,556.57 L235.19,558.11 L237.06,559.64 L238.93,561.16 L240.80,562.68 L242.67,564.17 L244.55,565.66 L246.42,567.13 L248.29,568.58 L250.16,570.02 L252.03,571.43 L253.90,572.83 L255.78,574.21 L257.65,575.56 L259.52,576.89 L261.39,578.20 L263.26,579.48 L265.13,580.74 L267.00,581.97 L268.88,583.18 L270.75,584.36 L272.62,585.51 L274.49,586.64 L276.36,587.74 L278.24,588.81 L280.11,589.85 L281.98,590.87 L283.85,591.86 L285.72,592.82 L287.59,593.76 L289.47,594.67 L291.34,595.55 L293.21,596.40 L295.08,597.23 L296.95,598.04 L298.82,598.82 L300.69,599.57 L302.57,600.30 L304.44,601.00 L306.31,601.68 L308.18,602.34 L310.05,602.98 L311.93,603.59 L313.80,604.18 L315.67,604.75 L317.54,605.30 L319.41,605.83 L321.28,606.35 L323.15,606.84 L325.03,607.31 L326.90,607.77 L328.77,608.21 L330.64,608.63 L332.51,609.03 L334.38,609.42 L336.26,609.80 L338.13,610.16 L340.00,610.51" fill="none" stroke="#22476e" stroke-width="1.2" stroke-dasharray="2.6 2.2" stroke-linejoin="round"/>
<path d="M115.40,491.36 L117.27,492.04 L119.14,492.76 L121.02,493.49 L122.89,494.25 L124.76,495.04 L126.63,495.86 L128.50,496.70 L130.37,497.58 L132.25,498.48 L134.12,499.41 L135.99,500.37 L137.86,501.36 L139.73,502.38 L141.60,503.43 L143.47,504.51 L145.35,505.62 L147.22,506.76 L149.09,507.94 L150.96,509.14 L152.83,510.38 L154.70,511.64 L156.58,512.94 L158.45,514.27 L160.32,515.62 L162.19,517.01 L164.06,518.42 L165.94,519.86 L167.81,521.33 L169.68,522.83 L171.55,524.35 L173.42,525.89 L175.29,527.46 L177.17,529.05 L179.04,530.66 L180.91,532.29 L182.78,533.93 L184.65,535.59 L186.52,537.27 L188.39,538.96 L190.27,540.66 L192.14,542.37 L194.01,544.09 L195.88,545.82 L197.75,547.55 L199.62,549.28 L201.50,551.01 L203.37,552.74 L205.24,554.47 L207.11,556.19 L208.98,557.91 L210.86,559.61 L212.73,561.31 L214.60,562.99 L216.47,564.66 L218.34,566.31 L220.21,567.95 L222.08,569.57 L223.96,571.17 L225.83,572.75 L227.70,574.30 L229.57,575.83 L231.44,577.34 L233.31,578.82 L235.19,580.27 L237.06,581.70 L238.93,583.10 L240.80,584.47 L242.67,585.81 L244.55,587.12 L246.42,588.40 L248.29,589.65 L250.16,590.87 L252.03,592.06 L253.90,593.22 L255.78,594.34 L257.65,595.44 L259.52,596.50 L261.39,597.54 L263.26,598.54 L265.13,599.52 L267.00,600.46 L268.88,601.38 L270.75,602.26 L272.62,603.12 L274.49,603.95 L276.36,604.75 L278.24,605.52 L280.11,606.27 L281.98,606.99 L283.85,607.69 L285.72,608.36 L287.59,609.01 L289.47,609.64 L291.34,610.24 L293.21,610.82 L295.08,611.38 L296.95,611.91 L298.82,612.43 L300.69,612.93 L302.57,613.40 L304.44,613.86 L306.31,614.30 L308.18,614.73 L310.05,615.13 L311.93,615.52 L313.80,615.90 L315.67,616.26 L317.54,616.60 L319.41,616.93 L321.28,617.25 L323.15,617.56 L325.03,617.85 L326.90,618.13 L328.77,618.39 L330.64,618.65 L332.51,618.90 L334.38,619.13 L336.26,619.36 L338.13,619.57 L340.00,619.78" fill="none" stroke="#b0103f" stroke-width="1.2" stroke-dasharray="2.6 2.2" stroke-linejoin="round"/>
<path d="M115.40,501.71 L117.27,502.11 L119.14,502.52 L121.02,502.95 L122.89,503.39 L124.76,503.85 L126.63,504.33 L128.50,504.83 L130.37,505.35 L132.25,505.88 L134.12,506.44 L135.99,507.01 L137.86,507.61 L139.73,508.23 L141.60,508.87 L143.47,509.53 L145.35,510.22 L147.22,510.93 L149.09,511.67 L150.96,512.42 L152.83,513.21 L154.70,514.02 L156.58,514.85 L158.45,515.71 L160.32,516.60 L162.19,517.51 L164.06,518.45 L165.94,519.41 L167.81,520.41 L169.68,521.43 L171.55,522.47 L173.42,523.55 L175.29,524.65 L177.17,525.77 L179.04,526.93 L180.91,528.11 L182.78,529.31 L184.65,530.55 L186.52,531.80 L188.39,533.08 L190.27,534.39 L192.14,535.71 L194.01,537.06 L195.88,538.43 L197.75,539.82 L199.62,541.23 L201.50,542.66 L203.37,544.11 L205.24,545.57 L207.11,547.05 L208.98,548.54 L210.86,550.04 L212.73,551.55 L214.60,553.07 L216.47,554.60 L218.34,556.13 L220.21,557.67 L222.08,559.21 L223.96,560.75 L225.83,562.29 L227.70,563.83 L229.57,565.37 L231.44,566.90 L233.31,568.43 L235.19,569.94 L237.06,571.45 L238.93,572.94 L240.80,574.43 L242.67,575.90 L244.55,577.35 L246.42,578.79 L248.29,580.21 L250.16,581.61 L252.03,582.99 L253.90,584.35 L255.78,585.69 L257.65,587.00 L259.52,588.29 L261.39,589.56 L263.26,590.81 L265.13,592.02 L267.00,593.22 L268.88,594.38 L270.75,595.53 L272.62,596.64 L274.49,597.73 L276.36,598.79 L278.24,599.82 L280.11,600.83 L281.98,601.81 L283.85,602.76 L285.72,603.68 L287.59,604.58 L289.47,605.45 L291.34,606.30 L293.21,607.12 L295.08,607.92 L296.95,608.69 L298.82,609.43 L300.69,610.16 L302.57,610.85 L304.44,611.53 L306.31,612.18 L308.18,612.81 L310.05,613.42 L311.93,614.01 L313.80,614.57 L315.67,615.12 L317.54,615.64 L319.41,616.15 L321.28,616.64 L323.15,617.11 L325.03,617.56 L326.90,618.00 L328.77,618.41 L330.64,618.82 L332.51,619.20 L334.38,619.58 L336.26,619.94 L338.13,620.28 L340.00,620.61" fill="none" stroke="#1c4d6a" stroke-width="1.2" stroke-linejoin="round"/>
<path d="M115.40,501.53 L117.27,502.35 L119.14,503.21 L121.02,504.09 L122.89,505.00 L124.76,505.94 L126.63,506.90 L128.50,507.90 L130.37,508.92 L132.25,509.97 L134.12,511.05 L135.99,512.16 L137.86,513.30 L139.73,514.47 L141.60,515.66 L143.47,516.89 L145.35,518.14 L147.22,519.42 L149.09,520.73 L150.96,522.06 L152.83,523.43 L154.70,524.81 L156.58,526.23 L158.45,527.66 L160.32,529.13 L162.19,530.61 L164.06,532.11 L165.94,533.64 L167.81,535.18 L169.68,536.75 L171.55,538.33 L173.42,539.92 L175.29,541.53 L177.17,543.15 L179.04,544.78 L180.91,546.42 L182.78,548.07 L184.65,549.73 L186.52,551.39 L188.39,553.05 L190.27,554.71 L192.14,556.37 L194.01,558.03 L195.88,559.69 L197.75,561.34 L199.62,562.98 L201.50,564.61 L203.37,566.24 L205.24,567.85 L207.11,569.45 L208.98,571.03 L210.86,572.59 L212.73,574.14 L214.60,575.67 L216.47,577.18 L218.34,578.67 L220.21,580.13 L222.08,581.57 L223.96,582.99 L225.83,584.38 L227.70,585.75 L229.57,587.09 L231.44,588.40 L233.31,589.69 L235.19,590.94 L237.06,592.17 L238.93,593.38 L240.80,594.55 L242.67,595.69 L244.55,596.81 L246.42,597.89 L248.29,598.95 L250.16,599.97 L252.03,600.97 L253.90,601.94 L255.78,602.89 L257.65,603.80 L259.52,604.69 L261.39,605.55 L263.26,606.38 L265.13,607.19 L267.00,607.97 L268.88,608.72 L270.75,609.45 L272.62,610.16 L274.49,610.84 L276.36,611.50 L278.24,612.13 L280.11,612.75 L281.98,613.34 L283.85,613.91 L285.72,614.46 L287.59,614.99 L289.47,615.50 L291.34,615.99 L293.21,616.46 L295.08,616.92 L296.95,617.35 L298.82,617.77 L300.69,618.18 L302.57,618.57 L304.44,618.94 L306.31,619.30 L308.18,619.65 L310.05,619.98 L311.93,620.30 L313.80,620.60 L315.67,620.89 L317.54,621.18 L319.41,621.45 L321.28,621.70 L323.15,621.95 L325.03,622.19 L326.90,622.42 L328.77,622.64 L330.64,622.85 L332.51,623.05 L334.38,623.24 L336.26,623.43 L338.13,623.61 L340.00,623.77" fill="none" stroke="#c4103c" stroke-width="1.2" stroke-linejoin="round"/>
<line x1="89.20" y1="500.20" x2="100.30" y2="501.60" stroke="#3a3048" stroke-width="1.3"/>
<line x1="93.40" y1="490.20" x2="95.50" y2="490.20" stroke="#3a3a50" stroke-width="1.2"/>
<line x1="97.80" y1="490.30" x2="100.30" y2="490.30" stroke="#222" stroke-width="1.2"/>
<line x1="89.00" y1="477.45" x2="89.00" y2="485.80" stroke="#a0102c" stroke-width="1.2"/>
<line x1="85.20" y1="477.45" x2="92.80" y2="477.45" stroke="#a0102c" stroke-width="1.4"/>
<line x1="85.20" y1="485.80" x2="92.80" y2="485.80" stroke="#a0102c" stroke-width="1.4"/>
<line x1="89.00" y1="492.00" x2="89.00" y2="498.30" stroke="#163f6e" stroke-width="1.2"/>
<line x1="85.20" y1="498.30" x2="92.80" y2="498.30" stroke="#163f6e" stroke-width="1.4"/>
<line x1="201.00" y1="529.20" x2="201.00" y2="538.50" stroke="#163f6e" stroke-width="1.1"/>
<line x1="198.00" y1="529.20" x2="204.00" y2="529.20" stroke="#163f6e" stroke-width="1.3"/>
<line x1="198.00" y1="538.50" x2="204.00" y2="538.50" stroke="#163f6e" stroke-width="1.3"/>
<line x1="294.80" y1="587.00" x2="294.80" y2="596.00" stroke="#163f6e" stroke-width="1.1"/>
<line x1="291.80" y1="587.00" x2="297.80" y2="587.00" stroke="#163f6e" stroke-width="1.3"/>
<line x1="291.80" y1="596.00" x2="297.80" y2="596.00" stroke="#163f6e" stroke-width="1.3"/>
<line x1="341.50" y1="612.30" x2="341.50" y2="621.00" stroke="#163f6e" stroke-width="1.1"/>
<line x1="338.50" y1="612.30" x2="344.50" y2="612.30" stroke="#163f6e" stroke-width="1.3"/>
<line x1="338.50" y1="621.00" x2="344.50" y2="621.00" stroke="#163f6e" stroke-width="1.3"/>
<circle cx="89.00" cy="481.70" r="3.4" fill="#fff" stroke="#b01035" stroke-width="1.3"/>
<circle cx="154.00" cy="522.00" r="3.4" fill="#fff" stroke="#b01035" stroke-width="1.3"/>
<circle cx="201.00" cy="552.00" r="3.4" fill="#fff" stroke="#b01035" stroke-width="1.3"/>
<circle cx="247.90" cy="581.25" r="3.4" fill="#fff" stroke="#b01035" stroke-width="1.3"/>
<circle cx="294.80" cy="608.20" r="3.4" fill="#fff" stroke="#b01035" stroke-width="1.3"/>
<circle cx="341.50" cy="627.80" r="3.4" fill="#fff" stroke="#b01035" stroke-width="1.3"/>
<circle cx="154.00" cy="508.90" r="3.4" fill="#fff" stroke="#163f6e" stroke-width="1.3"/>
<circle cx="201.00" cy="533.75" r="3.4" fill="#fff" stroke="#163f6e" stroke-width="1.3"/>
<circle cx="247.90" cy="563.00" r="3.4" fill="#fff" stroke="#163f6e" stroke-width="1.3"/>
<circle cx="294.80" cy="591.50" r="3.4" fill="#fff" stroke="#163f6e" stroke-width="1.3"/>
<circle cx="341.50" cy="616.60" r="3.4" fill="#fff" stroke="#163f6e" stroke-width="1.3"/>
<circle cx="89.00" cy="492.60" r="4.0" fill="#d2082c" stroke="#a3001f" stroke-width="0.7"/>
<circle cx="154.00" cy="534.90" r="4.0" fill="#d2082c" stroke="#a3001f" stroke-width="0.7"/>
<circle cx="201.00" cy="562.10" r="4.0" fill="#d2082c" stroke="#a3001f" stroke-width="0.7"/>
<circle cx="247.90" cy="591.30" r="4.0" fill="#d2082c" stroke="#a3001f" stroke-width="0.7"/>
<circle cx="294.80" cy="614.40" r="4.0" fill="#d2082c" stroke="#a3001f" stroke-width="0.7"/>
<circle cx="341.50" cy="631.20" r="4.0" fill="#d2082c" stroke="#a3001f" stroke-width="0.7"/>
<circle cx="89.00" cy="491.00" r="4.0" fill="#d2082c" stroke="#a3001f" stroke-width="0.7"/>
<circle cx="154.00" cy="521.00" r="4.0" fill="#17498a" stroke="#0e2f5c" stroke-width="0.7"/>
<circle cx="201.00" cy="545.80" r="4.0" fill="#17498a" stroke="#0e2f5c" stroke-width="0.7"/>
<circle cx="247.90" cy="574.80" r="4.0" fill="#17498a" stroke="#0e2f5c" stroke-width="0.7"/>
<circle cx="294.80" cy="603.70" r="4.0" fill="#17498a" stroke="#0e2f5c" stroke-width="0.7"/>
<circle cx="341.50" cy="625.00" r="4.0" fill="#17498a" stroke="#0e2f5c" stroke-width="0.7"/>
<line x1="355.20" y1="475.00" x2="374.80" y2="475.00" stroke="#b5153f" stroke-width="1.2"/>
<circle cx="365.00" cy="475.00" r="3.85" fill="#d2082c" stroke="#a3001f" stroke-width="0.7"/>
<line x1="355.20" y1="498.50" x2="374.80" y2="498.50" stroke="#1e436e" stroke-width="1.2"/>
<circle cx="365.00" cy="498.50" r="3.85" fill="#17498a" stroke="#0e2f5c" stroke-width="0.7"/>
<line x1="355.20" y1="521.30" x2="374.80" y2="521.30" stroke="#b5153f" stroke-width="1.2" stroke-dasharray="2.1 2.4"/>
<circle cx="365.00" cy="521.30" r="3.4" fill="none" stroke="#b5153f" stroke-width="1.2"/>
<line x1="355.20" y1="544.60" x2="374.80" y2="544.60" stroke="#1e436e" stroke-width="1.2" stroke-dasharray="2.1 2.4"/>
<circle cx="365.00" cy="544.60" r="3.4" fill="none" stroke="#1e436e" stroke-width="1.2"/>
<text transform="translate(380.77,479.80) scale(1.0347,1)" font-size="13.80" fill="#000">CT-001</text>
<path transform="translate(380.77,479.80) scale(1.0347,1)" d="M38.610,-1.132H41.811V0.404H38.610ZM43.031,-1.132H45.888V0.404H43.031Z" fill="#fff"/>
<text transform="translate(380.62,503.10) scale(0.9657,1)" font-size="13.80" fill="#000">rFVIIa</text>
<text transform="translate(380.77,526.00) scale(1.0347,1)" font-size="13.80" fill="#000">CT-001</text>
<path transform="translate(380.77,526.00) scale(1.0347,1)" d="M38.610,-1.132H41.811V0.404H38.610ZM43.031,-1.132H45.888V0.404H43.031Z" fill="#fff"/>
<text transform="translate(380.62,549.50) scale(0.9657,1)" font-size="13.80" fill="#000">rFVIIa</text>
<path d="M435.10,464.30 H443.60 V506.50 H435.10" fill="none" stroke="#000" stroke-width="1.5"/>
<path d="M435.10,511.30 H443.60 V553.20 H435.10" fill="none" stroke="#000" stroke-width="1.5"/>
<text transform="translate(449.74,481.20) scale(1.0253,1)" font-size="13.80" fill="#000">Before</text>
<text transform="translate(449.80,498.60) scale(0.9675,1)" font-size="13.80" fill="#000">Delivery</text>
<text transform="translate(450.17,527.70) scale(0.9866,1)" font-size="13.80" fill="#000">After</text>
<text transform="translate(449.80,545.20) scale(0.9675,1)" font-size="13.80" fill="#000">Delivery</text>
</svg>
</body></html>
